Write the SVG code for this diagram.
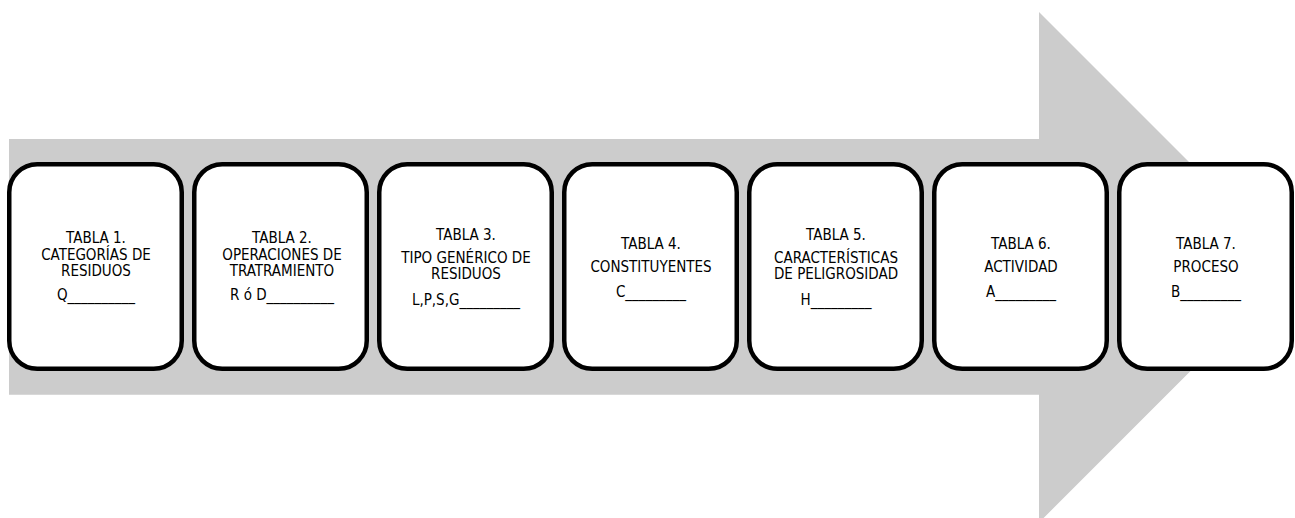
<svg xmlns="http://www.w3.org/2000/svg" width="1295" height="518" viewBox="0 0 1295 518">
<style>
.box{fill:#ffffff;stroke:#000000;stroke-width:4.5}
.t{font-family:"DejaVu Sans Condensed","DejaVu Sans",sans-serif;font-stretch:condensed;font-size:15px;fill:#000000;text-anchor:middle}
</style>
<rect width="1295" height="518" fill="#ffffff"/>
<g id="arrow">
<polygon points="9,139 1039,139 1039,12 1294.3,267.3 1039,522.6 1039,394.7 9,394.7" fill="#cccccc"/>
</g>
<g id="connectors"></g>
<g id="n1">
<rect class="box" x="9.25" y="164.25" width="172.5" height="204.5" rx="28"/>
<text class="t" x="96" y="243">TABLA 1.</text>
<text class="t" x="96" y="260">CATEGORÍAS DE</text>
<text class="t" x="96" y="276">RESIDUOS</text>
<text class="t" x="96" y="300">Q__________</text>
</g>
<g id="n2">
<rect class="box" x="194.25" y="164.25" width="172.5" height="204.5" rx="28"/>
<text class="t" x="282" y="243">TABLA 2.</text>
<text class="t" x="282" y="260">OPERACIONES DE</text>
<text class="t" x="282" y="276">TRATRAMIENTO</text>
<text class="t" x="282" y="300">R ó D__________</text>
</g>
<g id="n3">
<rect class="box" x="379.25" y="164.25" width="172.5" height="204.5" rx="28"/>
<text class="t" x="466" y="240">TABLA 3.</text>
<text class="t" x="466" y="263">TIPO GENÉRICO DE</text>
<text class="t" x="466" y="279">RESIDUOS</text>
<text class="t" x="466" y="305">L,P,S,G_________</text>
</g>
<g id="n4">
<rect class="box" x="564.25" y="164.25" width="172.5" height="204.5" rx="28"/>
<text class="t" x="651" y="249">TABLA 4.</text>
<text class="t" x="651" y="272">CONSTITUYENTES</text>
<text class="t" x="651" y="297">C_________</text>
</g>
<g id="n5">
<rect class="box" x="749.25" y="164.25" width="172.5" height="204.5" rx="28"/>
<text class="t" x="836" y="240">TABLA 5.</text>
<text class="t" x="836" y="263">CARACTERÍSTICAS</text>
<text class="t" x="836" y="279">DE PELIGROSIDAD</text>
<text class="t" x="836" y="305">H_________</text>
</g>
<g id="n6">
<rect class="box" x="934.25" y="164.25" width="172.5" height="204.5" rx="28"/>
<text class="t" x="1021" y="249">TABLA 6.</text>
<text class="t" x="1021" y="272">ACTIVIDAD</text>
<text class="t" x="1021" y="297">A_________</text>
</g>
<g id="n7">
<rect class="box" x="1119.25" y="164.25" width="172.5" height="204.5" rx="28"/>
<text class="t" x="1206" y="249">TABLA 7.</text>
<text class="t" x="1206" y="272">PROCESO</text>
<text class="t" x="1206" y="297">B_________</text>
</g>
</svg>
